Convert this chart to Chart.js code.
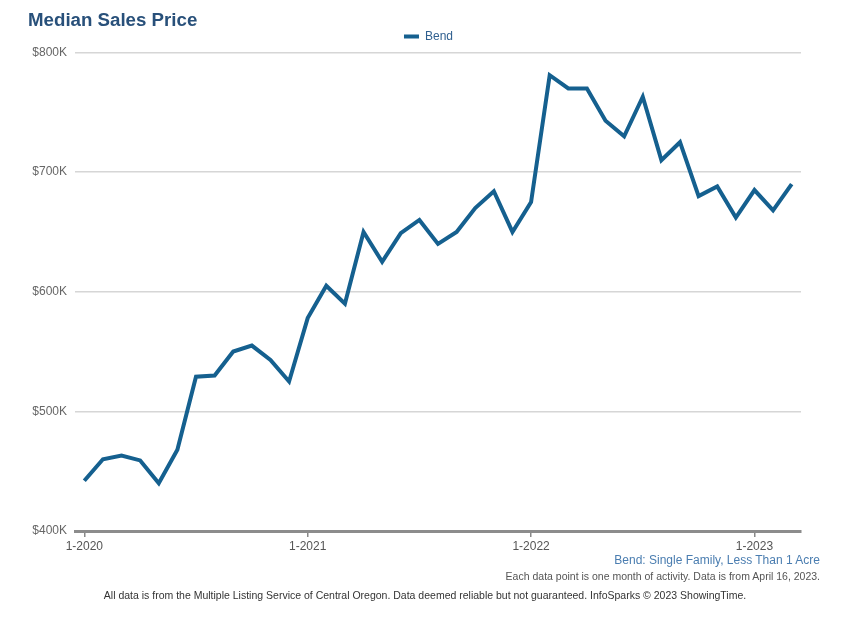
<!DOCTYPE html>
<html>
<head>
<meta charset="utf-8">
<script src="https://cdn.jsdelivr.net/npm/chart.js@4"></script>
<style>
  body { margin: 0; background: #fff; font-family: "Liberation Sans", Arial, sans-serif; }
  #wrap { position: relative; width: 857px; height: 629px; }
  .note { position: absolute; white-space: nowrap; }
</style>
</head>
<body>
<div id="wrap">
  <canvas id="priceChart" width="857" height="629"></canvas>
  <div class="note" style="left:28px; top:8.5px; font-size:18.7px; line-height:21px; font-weight:bold; color:#28507a;">Median Sales Price</div>
  <div class="note" style="right:37px; top:553px; font-size:12px; color:#4a7db0;">Bend: Single Family, Less Than 1 Acre</div>
  <div class="note" style="right:37px; top:570px; font-size:10.5px; color:#555;">Each data point is one month of activity. Data is from April 16, 2023.</div>
  <div class="note" style="left:0; width:850px; text-align:center; top:589px; font-size:10.5px; color:#333;">All data is from the Multiple Listing Service of Central Oregon. Data deemed reliable but not guaranteed. InfoSparks &copy; 2023 ShowingTime.</div>
</div>
<script>
// monthly points, 1-2020 .. 3-2023
const months = [
    '1-2020', '2-2020', '3-2020', '4-2020', '5-2020', '6-2020', '7-2020', '8-2020', '9-2020', '10-2020', '11-2020', '12-2020',
    '1-2021', '2-2021', '3-2021', '4-2021', '5-2021', '6-2021', '7-2021', '8-2021', '9-2021', '10-2021', '11-2021', '12-2021',
    '1-2022', '2-2022', '3-2022', '4-2022', '5-2022', '6-2022', '7-2022', '8-2022', '9-2022', '10-2022', '11-2022', '12-2022',
    '1-2023', '2-2023', '3-2023'
];
const bendPrice = [
    442, 460, 463, 459, 440, 468, 529, 530, 550, 555, 543, 525,
    578, 605, 590, 650, 625, 649, 660, 640, 650, 670, 684, 650,
    675, 781, 770, 770, 743, 730, 763, 710, 725, 680, 688, 662,
    685, 668, 690
];
const xTicks = [0, 12, 24, 36];
const yTicks = [400, 500, 600, 700, 800];

const lineColor = '#15608f';

document.addEventListener('DOMContentLoaded', function () {
    buildChart();
});

function buildChart() {
    const ctx = document.getElementById('priceChart').getContext('2d');
    new Chart(ctx, {
        type: 'line',
        data: {
            datasets: [{
                label: 'Bend',
                data: bendPrice.map((v, i) => ({ x: i, y: v })),
                borderColor: lineColor,
                backgroundColor: lineColor,
                borderWidth: 4,
                pointRadius: 0,
                tension: 0,
            }],
        },
        options: {
            responsive: false,
            animation: false,
            layout: { padding: { left: 0, right: 0, top: 29, bottom: 68 } },
            plugins: {
                legend: {
                    display: true,
                    labels: {
                        boxWidth: 15,
                        boxHeight: 4,
                        color: '#2f5f8f',
                        font: { family: 'Liberation Sans', size: 12 },
                        padding: 1.5,
                        // no outline around the swatch
                        generateLabels: (chart) =>
                            Chart.defaults.plugins.legend.labels.generateLabels(chart)
                                .map(l => Object.assign(l, { lineWidth: 0 })),
                    },
                },
                tooltip: { enabled: false },
            },
            scales: {
                x: {
                    type: 'linear',
                    min: -0.5,
                    max: months.length - 0.5,
                    afterBuildTicks: (scale) => {
                        scale.ticks = xTicks.map(v => ({ value: v }));
                    },
                    afterFit: (scale) => { scale.height = 30; },
                    ticks: {
                        callback: (v) => months[v],
                        color: '#555',
                        font: { family: 'Liberation Sans', size: 12 },
                        maxRotation: 0,
                        padding: 2,
                    },
                    grid: {
                        drawOnChartArea: false,
                        drawTicks: true,
                        tickLength: 6,
                        color: '#888',
                        lineWidth: 1.5,
                    },
                    border: { display: true, color: '#8c8c8c', width: 3 },
                },
                y: {
                    min: 400,
                    max: 800,
                    afterBuildTicks: (scale) => {
                        scale.ticks = yTicks.map(v => ({ value: v }));
                    },
                    afterFit: (scale) => { scale.width = 75; },
                    ticks: {
                        callback: (v) => '$' + v + 'K',
                        color: '#666',
                        font: { family: 'Liberation Sans', size: 12 },
                        padding: 8,
                    },
                    grid: {
                        drawTicks: false,
                        color: '#d6d6d6',
                        lineWidth: 1.5,
                    },
                    border: { display: false },
                },
                // empty right-hand axis keeps the plot clear of the right edge
                yRight: {
                    position: 'right',
                    display: true,
                    afterFit: (scale) => { scale.width = 56; },
                    ticks: { display: false },
                    grid: { display: false },
                    border: { display: false },
                },
            },
        },
    });
}
</script>
</body>
</html>
